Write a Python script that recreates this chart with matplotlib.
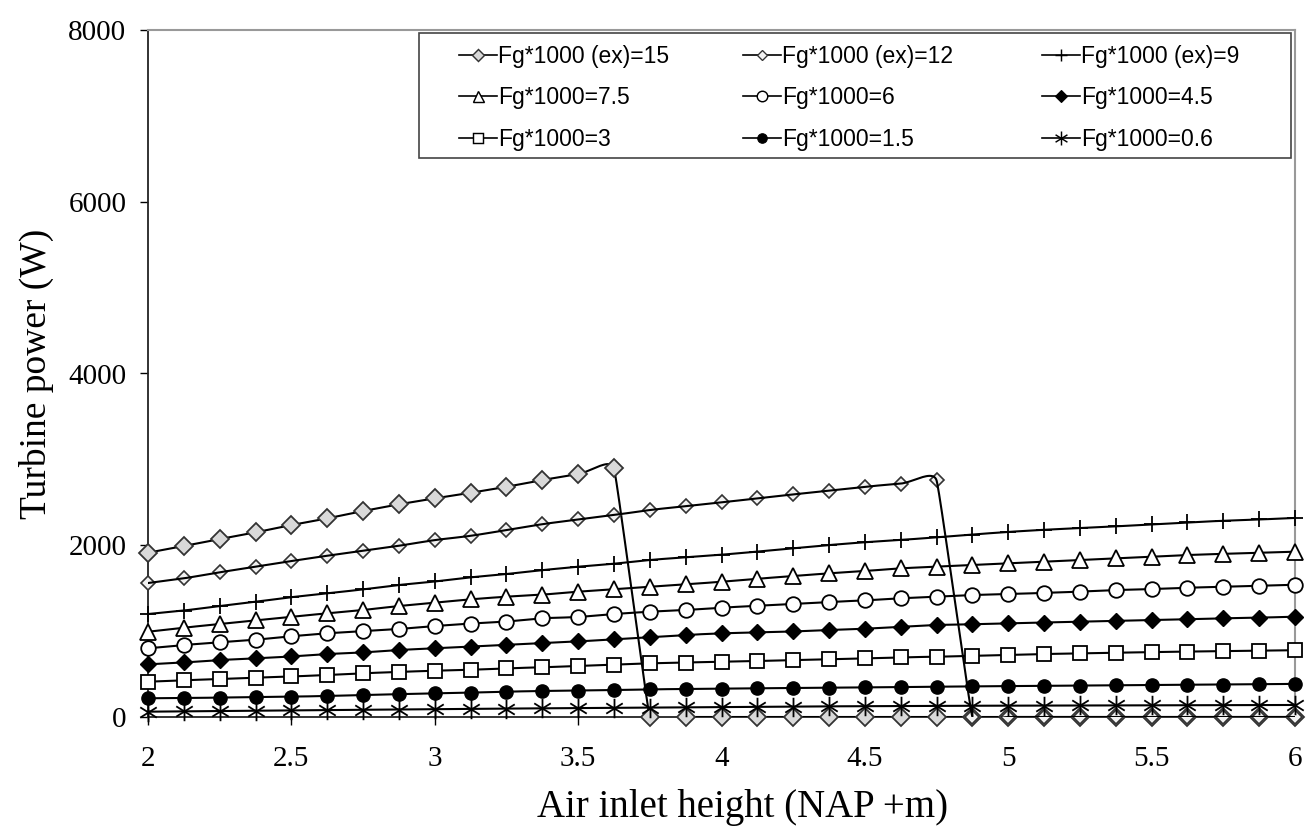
import numpy as np
import matplotlib
matplotlib.use("Agg")
import matplotlib.pyplot as plt
from matplotlib.lines import Line2D
from matplotlib.path import Path
from matplotlib.patches import Rectangle

# ---------------- data ----------------
x_vals = [2.0, 2.125, 2.25, 2.375, 2.5, 2.625, 2.75, 2.875, 3.0, 3.125, 3.25,
          3.375, 3.5, 3.625, 3.75, 3.875, 4.0, 4.125, 4.25, 4.375, 4.5, 4.625,
          4.75, 4.875, 5.0, 5.125, 5.25, 5.375, 5.5, 5.625, 5.75, 5.875, 6.0]

ex15 = [1913, 1991, 2072, 2150, 2235, 2313, 2398, 2476, 2546, 2611, 2681,
        2759, 2829, 2895, 0, 0, 0, 0, 0, 0, 0, 0,
        0, 0, 0, 0, 0, 0, 0, 0, 0, 0, 0]
ex12 = [1560, 1615, 1685, 1750, 1816, 1878, 1936, 1994, 2060, 2110, 2177,
        2245, 2300, 2352, 2410, 2455, 2499, 2546, 2592, 2636, 2681, 2718,
        2755, 0, 0, 0, 0, 0, 0, 0, 0, 0, 0]
ex9 = [1199, 1240, 1292, 1342, 1395, 1440, 1486, 1537, 1578, 1626, 1665,
       1710, 1750, 1785, 1828, 1860, 1890, 1926, 1964, 2002, 2035, 2062,
       2092, 2125, 2155, 2180, 2200, 2220, 2243, 2266, 2285, 2300, 2318]
fg75 = [993, 1040, 1083, 1125, 1168, 1207, 1246, 1292, 1331, 1370, 1401,
        1425, 1459, 1487, 1517, 1545, 1575, 1610, 1641, 1673, 1700, 1731,
        1750, 1770, 1789, 1808, 1828, 1848, 1866, 1886, 1900, 1913, 1925]
fg6 = [800, 838, 870, 900, 940, 974, 1000, 1025, 1059, 1088, 1112,
       1149, 1165, 1199, 1226, 1246, 1273, 1295, 1316, 1340, 1358, 1382,
       1401, 1420, 1432, 1445, 1460, 1478, 1490, 1505, 1517, 1528, 1540]
fg45 = [613, 635, 663, 683, 705, 733, 752, 780, 800, 820, 840,
        860, 880, 905, 930, 955, 974, 985, 996, 1013, 1028, 1050,
        1071, 1080, 1091, 1100, 1110, 1120, 1129, 1138, 1149, 1157, 1168]
fg3 = [411, 428, 442, 458, 472, 489, 509, 525, 539, 550, 567,
       579, 594, 610, 625, 634, 644, 652, 663, 672, 683, 695,
       702, 712, 722, 733, 741, 749, 755, 762, 767, 772, 778]
fg15 = [218, 221, 226, 232, 237, 245, 256, 266, 276, 284, 295,
        303, 308, 314, 322, 326, 330, 334, 338, 342, 345, 348,
        353, 356, 360, 363, 366, 369, 372, 375, 378, 381, 386]
fg06 = [62, 66, 70, 73, 77, 80, 84, 87, 91, 94, 98,
        101, 104, 107, 109, 112, 115, 118, 121, 124, 126, 128,
        130, 131, 132, 133, 134, 135, 136, 137, 138, 139, 140]

labels = ["Fg*1000 (ex)=15", "Fg*1000 (ex)=12", "Fg*1000 (ex)=9",
          "Fg*1000=7.5", "Fg*1000=6", "Fg*1000=4.5",
          "Fg*1000=3", "Fg*1000=1.5", "Fg*1000=0.6"]
x_ticks = [2, 2.5, 3, 3.5, 4, 4.5, 5, 5.5, 6]
x_ticklabels = ["2", "2.5", "3", "3.5", "4", "4.5", "5", "5.5", "6"]
y_ticks = [0, 2000, 4000, 6000, 8000]

# ---------------- styles ----------------
ast_verts, ast_codes = [], []
for a in [90, 32, 148]:
    r = np.deg2rad(a)
    ast_verts += [(np.cos(r), np.sin(r)), (-np.cos(r), -np.sin(r))]
    ast_codes += [Path.MOVETO, Path.LINETO]
asterisk = Path(ast_verts, ast_codes)

styles = [
    dict(marker="D", ms=9.0, mfc="#d9d9d9", mec="#333333", mew=1.3),
    dict(marker="D", ms=7.5, mfc="#f2f2f2", mec="#333333", mew=1.2),
    dict(marker="+", ms=12, mfc="black", mec="black", mew=1.3),
    dict(marker="^", ms=11, mfc="white", mec="black", mew=1.3),
    dict(marker="o", ms=10.5, mfc="white", mec="black", mew=1.3),
    dict(marker="D", ms=8, mfc="black", mec="black", mew=1.0),
    dict(marker="s", ms=10, mfc="white", mec="black", mew=1.3),
    dict(marker="o", ms=9.5, mfc="black", mec="black", mew=1.0),
    dict(marker=asterisk, ms=14, mfc="black", mec="black", mew=1.3),
]
series = [ex15, ex12, ex9, fg75, fg6, fg45, fg3, fg15, fg06]

# ---------------- figure ----------------
plt.rcParams["font.family"] = ["Liberation Serif", "DejaVu Serif"]
fig = plt.figure(figsize=(13.16, 8.30), dpi=100)
ax = fig.add_axes([148 / 1316, 1 - 717 / 830, (1295 - 148) / 1316, (717 - 30) / 830])
ax.set_xlim(2, 6)
ax.set_ylim(0, 8000)


def smooth_curve(ax, xs, ys, n=24):
    pts = ax.transData.transform(np.column_stack([xs, ys]))
    N = len(pts)
    out = [pts[0]]
    t = np.linspace(0, 1, n)[1:][:, None]
    for i in range(N - 1):
        p0, p3 = pts[i], pts[i + 1]
        seg = np.linalg.norm(p3 - p0)
        prev = pts[i - 1] if i > 0 else pts[i]
        nxt = pts[i + 2] if i + 2 < N else pts[i + 1]
        seg_prev = np.linalg.norm(pts[i] - prev) if i > 0 else seg
        seg_next = np.linalg.norm(nxt - pts[i + 1]) if i + 2 < N else seg
        d1 = pts[i + 1] - prev
        d2 = nxt - pts[i]
        d1 = d1 / (np.linalg.norm(d1) or 1)
        d2 = d2 / (np.linalg.norm(d2) or 1)
        c1 = p0 + d1 * min(seg, seg_prev) / 3
        c2 = p3 - d2 * min(seg, seg_next) / 3
        b = ((1 - t) ** 3) * p0 + 3 * ((1 - t) ** 2) * t * c1 + 3 * (1 - t) * t ** 2 * c2 + t ** 3 * p3
        out.extend(b)
    return ax.transData.inverted().transform(np.array(out))


handles = []
for idx, (ys, st) in enumerate(zip(series, styles)):
    cur = smooth_curve(ax, x_vals, ys)
    lz = 3 + idx * 0.1
    ax.plot(cur[:, 0], cur[:, 1], color="black", lw=1.5, zorder=lz)
    mz = lz + (-0.05 if idx == 1 else 0.05)
    ax.plot(x_vals, ys, linestyle="none", marker=st["marker"], markersize=st["ms"],
            markerfacecolor=st["mfc"], markeredgecolor=st["mec"],
            markeredgewidth=st["mew"], zorder=mz, clip_on=False)
    handles.append(Line2D([], [], color="black", lw=1.2, marker=st["marker"],
                          markersize=st["ms"] * 0.72, markerfacecolor=st["mfc"],
                          markeredgecolor=st["mec"], markeredgewidth=st["mew"] * 0.8))

# spines & ticks
for s in ["left", "bottom"]:
    ax.spines[s].set_color("#222222")
    ax.spines[s].set_linewidth(1.3)
for s in ["top", "right"]:
    ax.spines[s].set_color("#999999")
    ax.spines[s].set_linewidth(1.5)
ax.set_xticks(x_ticks)
ax.set_xticklabels(x_ticklabels)
ax.set_yticks(y_ticks)
ax.set_yticklabels([str(v) for v in y_ticks])
ax.tick_params(axis="x", direction="inout", length=12, width=1.0, labelsize=21, pad=15)
ax.tick_params(axis="y", direction="out", length=6, width=1.0, labelsize=21, pad=9.5)
ax.set_xlabel("Air inlet height (NAP +m)", fontsize=28)
ax.xaxis.set_label_coords((743 - 148) / 1147, -(789 - 717) / 687)
ax.set_ylabel("Turbine power (W)", fontsize=27, labelpad=10)

# legend frame
ax.add_patch(Rectangle(((419 - 148) / 1147, (717 - 158) / 687),
                       (1291 - 419) / 1147, (158 - 33) / 687,
                       transform=ax.transAxes, facecolor="white",
                       edgecolor="#444444", linewidth=1.2, zorder=9, clip_on=False))

# legend: three single-column legends at measured column positions
col_left = [459, 743, 1042]
leg_font = {"family": ["Liberation Sans", "DejaVu Sans"], "size": 16.5}
for c in range(3):
    idxs = [c, c + 3, c + 6]
    lg = ax.legend([handles[i] for i in idxs], [labels[i] for i in idxs],
                   ncol=1, loc="upper left",
                   bbox_to_anchor=((col_left[c] - 148) / 1147, (717 - 45) / 687),
                   borderaxespad=0.0, borderpad=0.0, frameon=False,
                   prop=leg_font, handlelength=1.66, handletextpad=0.05,
                   labelspacing=0.8)
    lg.set_zorder(10)
    if c < 2:
        ax.add_artist(lg)

fig.savefig("out.png", dpi=100)
